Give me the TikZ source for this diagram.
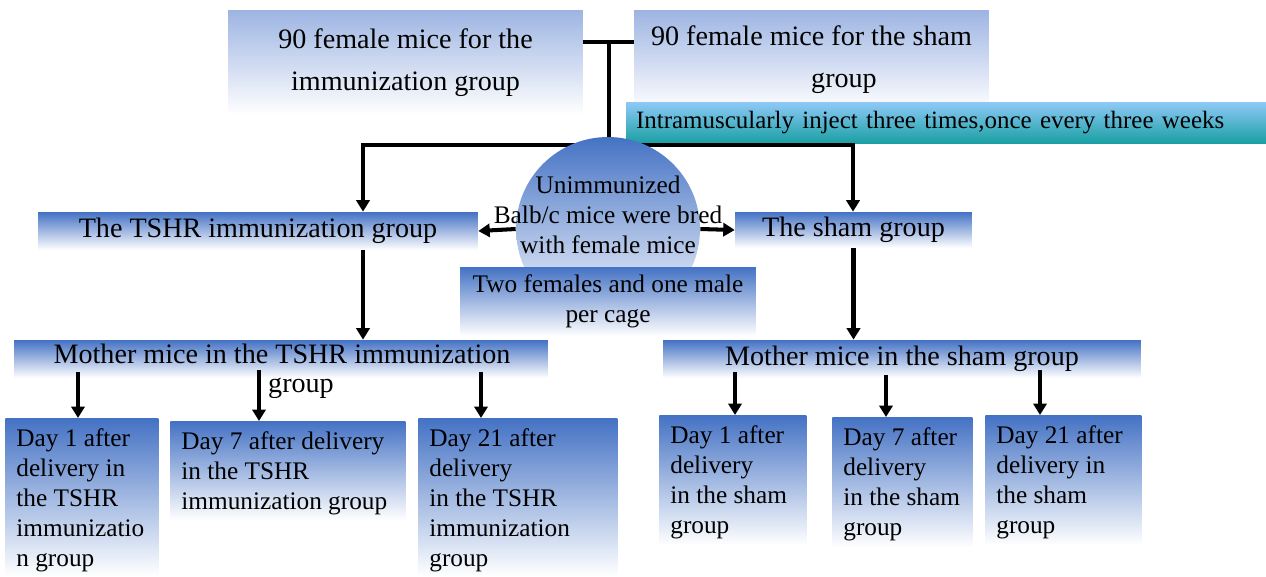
\documentclass[tikz,border=0pt]{standalone}
\usepackage{fontspec}
\setmainfont{Liberation Serif}
\usetikzlibrary{positioning, calc, arrows.meta}

\definecolor{boxblue}{RGB}{68,114,196}
\definecolor{paleblue}{RGB}{157,180,226}
\definecolor{skyblue}{RGB}{143,201,247}
\definecolor{tealbox}{RGB}{26,160,164}

\tikzset{
  txt/.style={inner sep=0pt, font=\fontsize{14.4}{17}\selectfont},
  bigtxt/.style={inner sep=0pt, font=\fontsize{16}{23.8}\selectfont},
  box/.style={rectangle, top color=boxblue, bottom color=white},
  topbox/.style={rectangle, top color=paleblue, bottom color=white, align=center},
  daytxt/.style={txt, anchor=north west, align=left},
  link/.style={line width=2.3pt, line cap=rect},
  arr/.style={line width=2.3pt, -{Triangle[length=6.5pt, width=7.5pt]}},
}

\begin{document}
\begin{tikzpicture}[x=0.02cm, y=-0.02cm]
    \useasboundingbox (0,0) rectangle (1266,576);
    % two starting groups
    \node[topbox, bigtxt, minimum width=7.1cm, minimum height=2.1cm] (immtop) at (405.5,62.5) {90 female mice for the\\immunization group};
    \node[topbox, bigtxt, minimum width=7.1cm, minimum height=2cm] (shamtop) at (811.5,60) {90 female mice for the sham\\\hspace*{1.3cm}group};
    \node[txt, font=\fontsize{14.2}{17}\selectfont, top color=skyblue, bottom color=tealbox, inner xsep=0.2cm, text width=12.4cm, align=left, minimum height=0.82cm] (inject) at (946,122.5) {Intramuscularly inject three times,once every three weeks};
    % joining lines
    \coordinate (join) at (609,42);
    \coordinate (split) at (609,145);
    \coordinate (la) at (363,145);
    \coordinate (ra) at (853,145);
    \draw[line width=2.3pt] (join -| immtop.east) -- (join -| shamtop.west);
    \draw[link] (join) -- (split);
    \draw[link] (la) -- (ra);
    % groups
    \node[box, bigtxt, minimum width=8.8cm, minimum height=0.76cm] (tshr) at (258,231) {The TSHR immunization group};
    \node[box, bigtxt, minimum width=4.74cm, minimum height=0.72cm] (sham) at (853.5,230) {The sham group};
    \draw[arr] (la) -- (la |- tshr.north);
    \draw[arr] (ra) -- (ra |- sham.north);
    % breeding
    \node[circle, inner sep=0pt, minimum size=3.68cm, top color=boxblue, middle color=boxblue!60, bottom color=white] (dome) at (608,229) {};
    \draw[arr] (dome.west) -- (tshr.east);
    \draw[arr] (dome.east) -- (sham.west);
    \node[txt, align=center] (domelbl) at (608,215) {Unimmunized\\Balb/c mice were bred\\with female mice};
    \node[box, txt, align=center, minimum width=5.92cm, minimum height=1.38cm] (cage) at (608,301.5) {Two females and one male\\per cage};
    % mothers
    \node[box, minimum width=10.68cm, minimum height=0.76cm] (mtshr) at (281,359) {};
    \node[bigtxt, align=center, font=\fontsize{16}{16.5}\selectfont] (mtshrlbl) at (282,371.5) {Mother mice in the TSHR immunization\\\hspace*{0.76cm}group};
    \node[box, bigtxt, minimum width=9.56cm, minimum height=0.76cm] (msham) at (902,359) {Mother mice in the sham group};
    \draw[arr] (la |- tshr.south) -- (la |- mtshr.north);
    \draw[arr] (sham.south) -- (sham.south |- msham.north);
    % days after delivery
    \foreach \n/\x/\y/\w/\h in {d1t/5/418/3.06/3.16, d7t/170/421/4.70/1.98, d21t/418/418/3.98/3.16,
                               d1s/659/415/2.94/2.60, d7s/832/417/2.80/2.60, d21s/985/415/3.12/2.60}
        \node[box, anchor=north west, minimum width=\w cm, minimum height=\h cm] (\n) at (\x,\y) {};
    \foreach \n/\t in {d1t/{Day 1 after\\delivery in\\the TSHR\\immunizatio\\n group},
                       d7t/{Day 7 after delivery\\in the TSHR\\immunization group},
                       d21t/{Day 21 after\\delivery\\in the TSHR\\immunization\\group},
                       d1s/{Day 1 after\\delivery\\in the sham\\group},
                       d7s/{Day 7 after\\delivery\\in the sham\\group},
                       d21s/{Day 21 after\\delivery in\\the sham\\group}}
        \node[daytxt] (\n lbl) at ([xshift=0.22cm, yshift=-0.21cm]\n.north west) {\t};
    \foreach \n/\x/\y in {d1t/78/372, d7t/259/370, d21t/481/372, d1s/735/372, d7s/886/375, d21s/1040/370} {
        \coordinate (\n top) at (\x,\y);
        \draw[arr] (\n top) -- (\n top |- \n.north);
    }
\end{tikzpicture}
\end{document}
